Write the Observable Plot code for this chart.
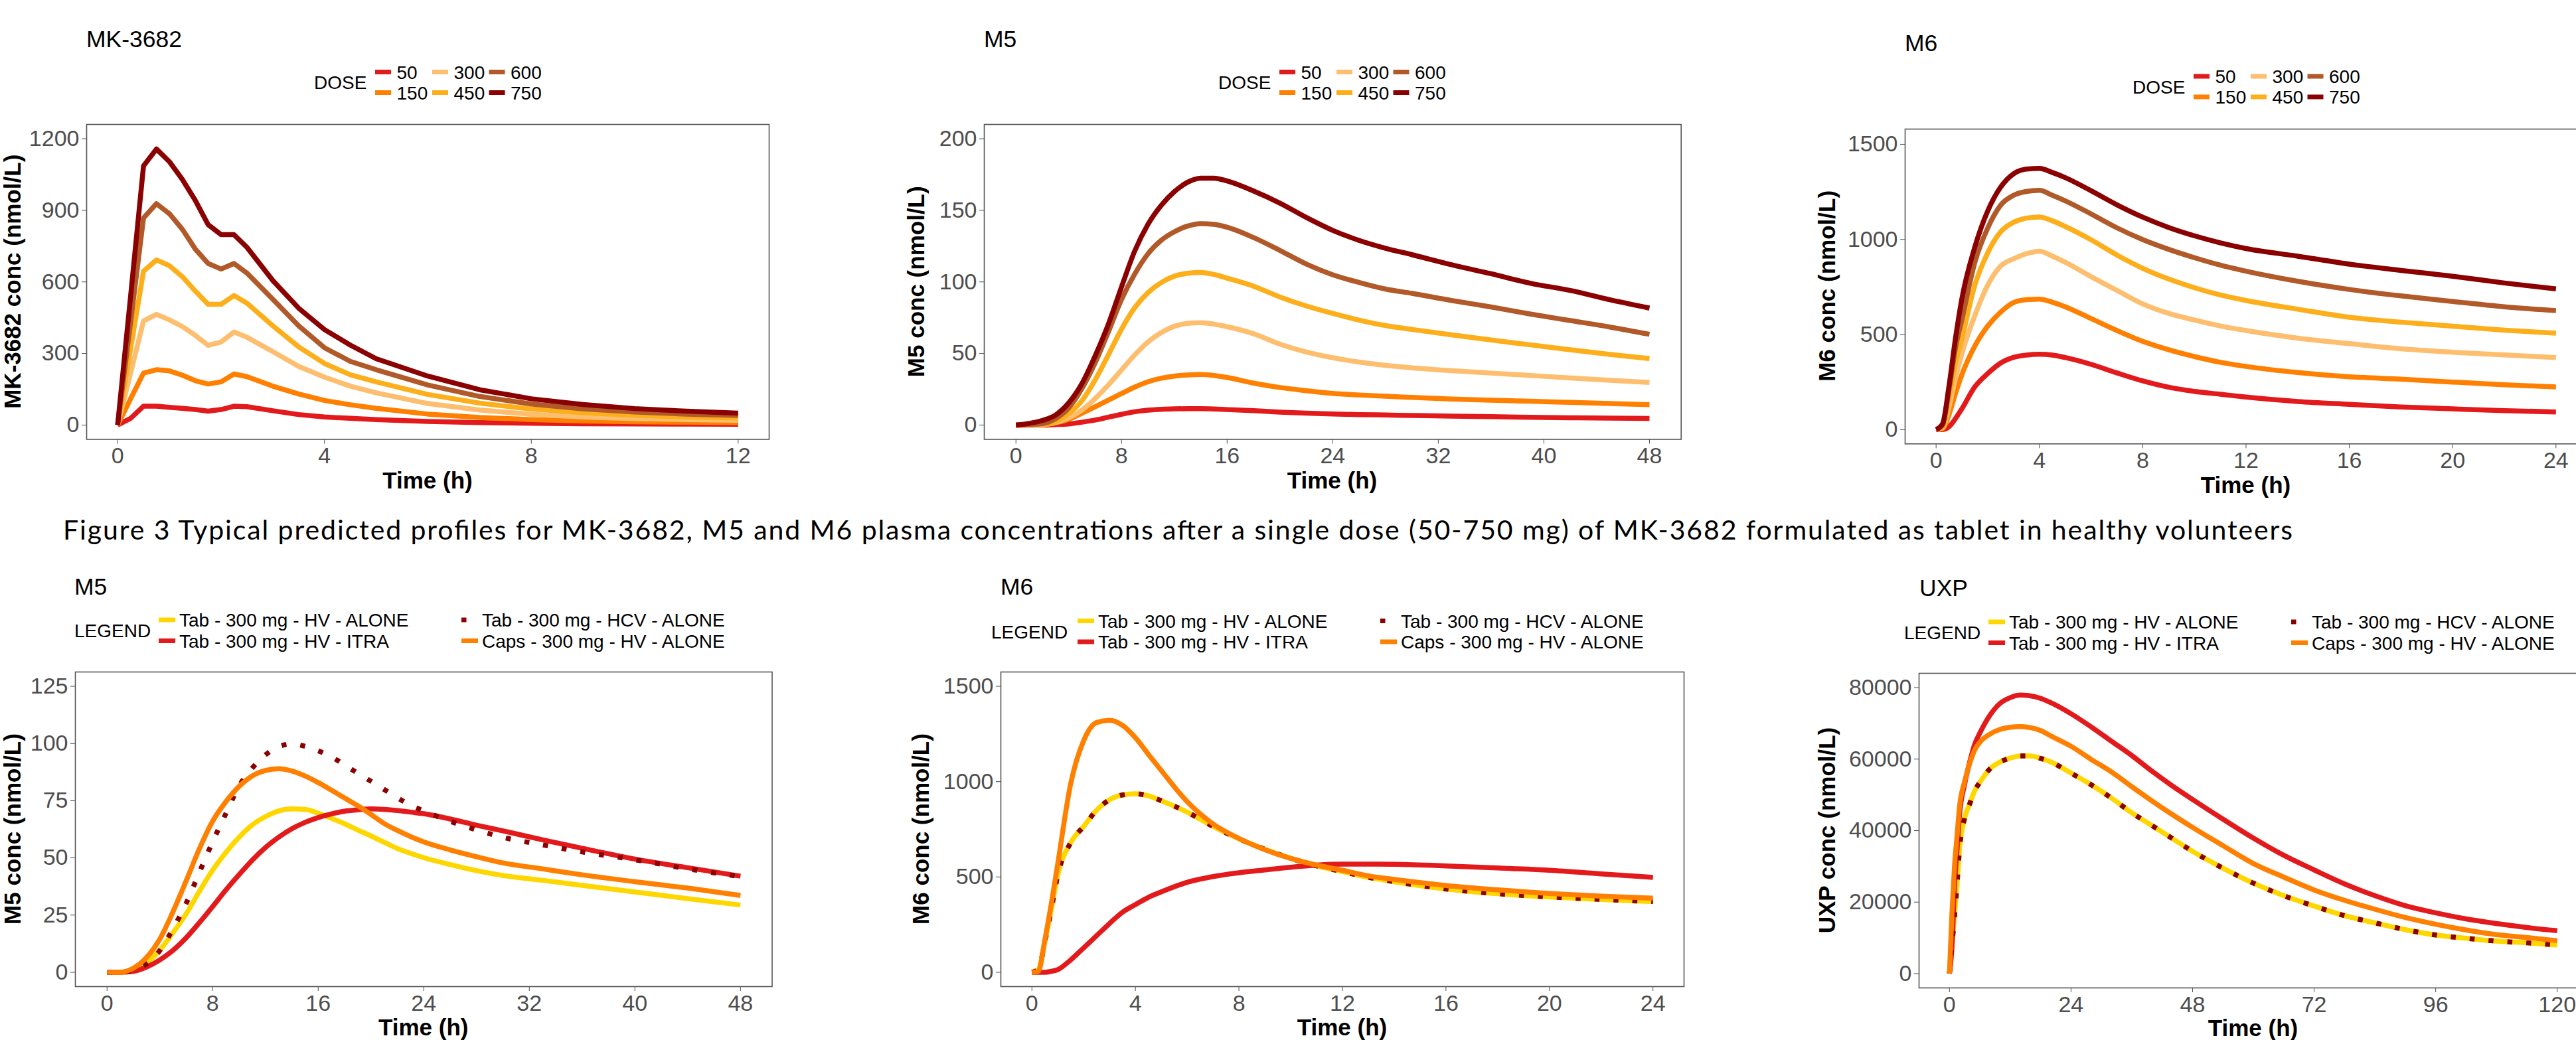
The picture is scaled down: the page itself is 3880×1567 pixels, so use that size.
<!DOCTYPE html>
<html>
<head>
<meta charset="utf-8">
<script src="https://cdn.jsdelivr.net/npm/d3@7"></script>
<script src="https://cdn.jsdelivr.net/npm/@observablehq/plot@0.6"></script>
<style>
html, body { margin: 0; padding: 0; background: #ffffff; }
#fig { position: relative; width: 3880px; height: 1567px; overflow: hidden; background: #ffffff; }
#fig svg { position: absolute; }
</style>
</head>
<body>
<div id="fig"></div>
<script>
// ---------------- DATA ----------------
const doseLevels = ["50", "150", "300", "450", "600", "750"];
const doseColors = ["#E31A1C", "#FF7F00", "#FDBF6F", "#FDAE1B", "#B15928", "#8B0000"];

const scenarioLevels = ["Tab - 300 mg - HV - ALONE", "Tab - 300 mg - HV - ITRA", "Tab - 300 mg - HCV - ALONE", "Caps - 300 mg - HV - ALONE"];
const scenarioColors = ["#FFD700", "#E31A1C", "#8B0000", "#FF7F00"];

const captionText = "Figure 3 Typical predicted profiles for MK-3682, M5 and M6 plasma concentrations after a single dose (50-750 mg) of MK-3682 formulated as tablet in healthy volunteers";
const panelTitles = ["MK-3682", "M5", "M6", "M5", "M6", "UXP"];
const yTitles = ["MK-3682 conc (nmol/L)", "M5 conc (nmol/L)", "M6 conc (nmol/L)", "M5 conc (nmol/L)", "M6 conc (nmol/L)", "UXP conc (nmol/L)"];
const xTitle = "Time (h)";

// Panel A: MK-3682 by dose (0-12 h)
const timeA = [0, 0.25, 0.5, 0.75, 1, 1.25, 1.5, 1.75, 2, 2.25, 2.5, 3, 3.5, 4, 4.5, 5, 6, 7, 8, 9, 10, 11, 12];
const mk50  = [0, 28, 79, 79, 74, 70, 65, 58, 65, 79, 77, 60, 44, 34, 28, 23, 15, 10.5, 7.5, 5.7, 4.6, 3.9, 3.3];
const mk150 = [0, 110, 218, 232, 227, 209, 186, 172, 181, 214, 203, 163, 130, 103, 85, 70, 46, 32, 23, 17, 14, 12, 10];
const mk300 = [0, 218, 436, 464, 441, 413, 376, 334, 348, 390, 368, 308, 246, 201, 163, 135, 90, 63, 45, 34, 27, 23, 20];
const mk450 = [0, 320, 645, 692, 668, 622, 562, 506, 506, 543, 511, 416, 328, 258, 211, 181, 128, 92, 67, 52, 41, 34, 30];
const mk600 = [0, 430, 868, 928, 886, 821, 738, 677, 654, 677, 637, 527, 416, 324, 267, 232, 168, 120, 88, 68, 55, 46, 40];
const mk750 = [0, 540, 1086, 1157, 1104, 1030, 942, 840, 798, 798, 745, 606, 490, 400, 335, 278, 205, 148, 110, 86, 69, 58, 50];

// Panel B: M5 by dose (0-48 h)
const timeB = [0, 2, 3, 4, 5, 6, 7, 8, 9, 10, 11, 12, 13, 14, 15, 16, 18, 20, 22, 24, 26, 28, 30, 33, 36, 39, 42, 45, 48];
const m5d50  = [0, 0, 0.3, 0.8, 2, 3.5, 5.5, 7.5, 9.3, 10.4, 11, 11.3, 11.4, 11.4, 11.2, 10.8, 10, 9, 8.3, 7.7, 7.3, 7, 6.7, 6.2, 5.9, 5.4, 5.1, 4.8, 4.6];
const m5d150 = [0, 0.2, 1.5, 4, 8.3, 12.8, 17.4, 22, 26.5, 30.2, 32.7, 34.2, 35, 35.3, 34.6, 33.2, 29.3, 26.2, 24, 22.1, 21, 20.1, 19.3, 18.2, 17.3, 16.6, 15.8, 15, 14.2];
const m5d300 = [0, 0.3, 1.8, 5, 10.5, 18.5, 28, 38.5, 49, 58, 64.5, 69, 71, 71.5, 70.5, 68.7, 63.8, 56.5, 51, 47, 44, 41.7, 40, 38, 36.3, 34.6, 32.9, 31.3, 29.7];
const m5d450 = [0, 0.5, 2.5, 8, 17, 31.5, 49, 67, 82, 92.5, 99.5, 104, 106, 106.6, 105.2, 102.6, 97, 89.5, 83.2, 78, 73.3, 69.5, 66.8, 63, 59.4, 56, 52.6, 49.3, 46.4];
const m5d600 = [0, 1, 4.5, 12, 25.5, 43.5, 65, 87.7, 105.5, 119.6, 129, 135, 139, 140.7, 140.2, 138.2, 131, 122, 112.5, 105, 99.6, 95, 92, 87, 82.5, 77.5, 73, 68.5, 63.4];
const m5d750 = [0, 3.2, 7, 15.5, 29, 48.3, 70.4, 96.5, 121.6, 140.2, 153.4, 163, 169.6, 172.5, 172.5, 170.5, 163.5, 155, 145, 136, 129, 123.5, 119, 112, 105.7, 99, 94, 87.5, 81.7];

// Panel C: M6 by dose (0-24 h)
const timeC = [0, 0.25, 0.5, 0.75, 1, 1.5, 2, 2.5, 3, 3.5, 4, 4.5, 5, 6, 7, 8, 9, 10, 11, 12, 14, 16, 18, 20, 22, 24];
const m6d50  = [0, 0, 15, 58, 110, 225, 295, 350, 380, 392, 396, 392, 379, 343, 298, 256, 223, 201, 186, 171, 148, 133, 119, 109, 100, 93];
const m6d150 = [0, 5, 80, 190, 290, 440, 545, 618, 668, 683, 686, 670, 646, 584, 521, 464, 420, 384, 354, 332, 300, 278, 265, 250, 236, 224];
const m6d300 = [0, 10, 120, 270, 400, 600, 760, 860, 898, 925, 938, 912, 880, 804, 732, 661, 611, 576, 545, 521, 481, 452, 425, 407, 393, 379];
const m6d450 = [0, 15, 170, 350, 480, 760, 930, 1040, 1090, 1112, 1118, 1098, 1068, 998, 918, 848, 792, 746, 708, 679, 633, 591, 565, 544, 523, 507];
const m6d600 = [0, 25, 210, 430, 580, 880, 1060, 1180, 1232, 1252, 1258, 1232, 1203, 1134, 1061, 999, 948, 904, 865, 833, 780, 737, 703, 674, 646, 626];
const m6d750 = [0, 30, 230, 480, 690, 960, 1150, 1275, 1345, 1370, 1373, 1352, 1325, 1256, 1182, 1117, 1063, 1019, 982, 952, 912, 870, 837, 806, 771, 740];

// Panel D: M5 by scenario (0-48 h)
const timeD = [0, 1, 2, 3, 4, 5, 6, 7, 8, 9, 10, 11, 12, 13, 14, 15, 16, 17, 18, 19, 20, 21, 22, 23, 24, 26, 28, 30, 33, 36, 40, 44, 48];
const m5TabHV   = [0, 0, 1.1, 4.2, 9.7, 17.3, 25.6, 35.4, 44.6, 52.3, 59, 64.4, 68, 70.5, 71.4, 71.2, 69.5, 67.3, 64.9, 62.2, 59.6, 56.8, 54.1, 52, 50.1, 47.1, 44.4, 42.3, 40.2, 38, 35.1, 32.2, 29.4];
const m5TabITRA = [0, 0, 0.4, 2.3, 5.4, 9.6, 15.1, 21.7, 28.7, 35.9, 42.6, 49, 54.5, 59, 62.7, 65.5, 67.6, 69.2, 70.4, 71, 71.4, 71.2, 70.7, 70, 69.3, 67, 64.3, 61.8, 57.9, 54.2, 49.5, 45.7, 42];
const m5TabHCV  = [0, 0, 0.8, 3.7, 9.5, 19, 30.2, 43.7, 57, 69.3, 81.3, 89.2, 95, 98.6, 99.8, 98.8, 96.8, 94.2, 90.6, 87, 83.5, 79.9, 76.3, 73, 70.6, 66, 62.2, 59, 55.7, 52.6, 49.2, 45.2, 41.8];
const m5Caps    = [0, 0, 1.8, 6.5, 14.5, 26.5, 40, 54, 66, 74.5, 81.2, 85.8, 88.2, 89, 88, 85.8, 82.9, 79.6, 76.2, 72.8, 69, 65, 62, 59.3, 57, 53.5, 50.5, 47.8, 45.2, 42.6, 39.6, 36.8, 33.6];

// Panel E: M6 by scenario (0-24 h)
const timeE = [0, 0.25, 0.5, 0.75, 1, 1.5, 2, 2.5, 3, 3.5, 4, 4.5, 5, 6, 7, 8, 9, 10, 11, 12, 13, 14, 16, 18, 20, 22, 24];
const m6TabHV   = [0, 15, 160, 330, 510, 680, 765, 850, 905, 930, 936, 925, 900, 840, 765, 700, 645, 598, 558, 528, 498, 475, 437, 412, 395, 382, 371];
const m6TabITRA = [0, 0, 0, 5, 14, 65, 128, 192, 256, 315, 355, 393, 422, 472, 502, 522, 537, 551, 562, 567, 567, 566, 558, 547, 535, 516, 498];
const m6TabHCV  = [0, 15, 160, 330, 510, 680, 765, 850, 905, 930, 936, 925, 900, 840, 765, 700, 645, 598, 558, 528, 498, 475, 437, 412, 395, 382, 371];
const m6Caps    = [0, 5, 170, 360, 570, 990, 1215, 1310, 1322, 1295, 1230, 1143, 1058, 895, 778, 702, 643, 597, 562, 535, 506, 487, 455, 432, 413, 399, 389];

// Panel F: UXP by scenario (0-120 h)
const timeF = [0, 0.5, 1, 1.5, 2, 3, 4, 5, 6, 8, 10, 12, 14, 16, 18, 20, 24, 28, 32, 36, 40, 44, 48, 54, 60, 66, 72, 78, 84, 90, 96, 102, 108, 114, 120];
const uxpTabHV   = [0, 8000, 16000, 25000, 35000, 43500, 47500, 51200, 53500, 57300, 59200, 60300, 60900, 60900, 60200, 59200, 56100, 52800, 49100, 45000, 41400, 37800, 34200, 29500, 25300, 21800, 18900, 16200, 14200, 12300, 10800, 9900, 9100, 8600, 8000];
const uxpTabITRA = [0, 7500, 24500, 34500, 44500, 53000, 59200, 64200, 67300, 72300, 75600, 77200, 77900, 77700, 77000, 75800, 72700, 69000, 65000, 61000, 56600, 52500, 48700, 43200, 37900, 33100, 29000, 25100, 21800, 19000, 17000, 15300, 14000, 12900, 12000];
const uxpTabHCV  = [0, 8000, 16000, 25000, 35000, 43500, 47500, 51200, 53500, 57300, 59200, 60300, 60900, 60900, 60200, 59200, 56100, 52800, 49100, 45000, 41400, 37800, 34200, 29500, 25300, 21800, 18900, 16200, 14200, 12300, 10800, 9900, 9100, 8600, 8000];
const uxpCaps    = [0, 17000, 30000, 38500, 46800, 53700, 58800, 62600, 64700, 67000, 68300, 68900, 69100, 68800, 68000, 66500, 63600, 59900, 56400, 52300, 48300, 44500, 40900, 35800, 30800, 27000, 23400, 20500, 18000, 15700, 13800, 12200, 10900, 10100, 9200];

// Axis ticks
const ticksA_x = [0, 4, 8, 12],             ticksA_y = [0, 300, 600, 900, 1200];
const ticksB_x = [0, 8, 16, 24, 32, 40, 48], ticksB_y = [0, 50, 100, 150, 200];
const ticksC_x = [0, 4, 8, 12, 16, 20, 24], ticksC_y = [0, 500, 1000, 1500];
const ticksD_x = [0, 8, 16, 24, 32, 40, 48], ticksD_y = [0, 25, 50, 75, 100, 125];
const ticksE_x = [0, 4, 8, 12, 16, 20, 24], ticksE_y = [0, 500, 1000, 1500];
const ticksF_x = [0, 24, 48, 72, 96, 120],  ticksF_y = [0, 20000, 40000, 60000, 80000];

// ---------------- BUILD ----------------
const fig = document.getElementById("fig");
const FONT = "'Liberation Sans', Arial, Helvetica, sans-serif";

function series(times, name, values) {
  return times.map((t, i) => ({t, v: values[i], s: name}));
}

function makePanel(p) {
  const mL = 130, mR = 20, mT = 10, mB = 70;
  const W = p.R - p.L, H = p.B - p.T;
  const marks = p.lines.map(l => Plot.line(l.data, {
    x: "t", y: "v", stroke: "s", strokeWidth: 7.5, curve: p.curve,
    strokeLinejoin: "round", strokeLinecap: "butt",
    strokeDasharray: l.dash
  }));
  marks.push(Plot.frame({stroke: "#555555", strokeWidth: 1.6}));
  const svg = Plot.plot({
    width: W + mL + mR, height: H + mT + mB,
    marginLeft: mL, marginRight: mR, marginTop: mT, marginBottom: mB,
    x: {domain: p.xd, ticks: p.xt, tickSize: 7, tickPadding: 5, label: null, tickFormat: d3.format("d")},
    y: {domain: p.yd, ticks: p.yt, tickSize: 7, tickPadding: 4, label: null, tickFormat: d3.format("d")},
    color: {domain: p.cdom, range: p.crange},
    style: {fontFamily: FONT, fontSize: "34px", color: "#4d4d4d", background: "transparent", overflow: "visible"},
    marks
  });
  svg.style.position = "absolute";
  svg.style.left = (p.L - mL) + "px";
  svg.style.top = (p.T - mT) + "px";
  svg.style.maxWidth = "none";
  fig.appendChild(svg);
}

const doseArraysA = [mk50, mk150, mk300, mk450, mk600, mk750];
const doseArraysB = [m5d50, m5d150, m5d300, m5d450, m5d600, m5d750];
const doseArraysC = [m6d50, m6d150, m6d300, m6d450, m6d600, m6d750];

function doseLines(times, arrays) {
  return doseLevels.map((d, i) => ({data: series(times, d, arrays[i])}));
}
function scenLines(times, tabHV, tabITRA, tabHCV, caps) {
  return [
    {data: series(times, scenarioLevels[0], tabHV)},
    {data: series(times, scenarioLevels[1], tabITRA)},
    {data: series(times, scenarioLevels[2], tabHCV), dash: "7.5,21"},
    {data: series(times, scenarioLevels[3], caps)}
  ];
}

const panels = [
  {L: 130, T: 187, R: 1158, B: 661.5, xd: [-0.6, 12.6], yd: [-60, 1260], xt: ticksA_x, yt: ticksA_y, curve: "linear",
   cdom: doseLevels, crange: doseColors, lines: doseLines(timeA, doseArraysA), xTitleY: 735.5},
  {L: 1481.6, T: 187, R: 2531.3, B: 661.5, xd: [-2.4, 50.4], yd: [-10, 210], xt: ticksB_x, yt: ticksB_y, curve: "monotone-x",
   cdom: doseLevels, crange: doseColors, lines: doseLines(timeB, doseArraysB), xTitleY: 735.5},
  {L: 2869, T: 193.7, R: 3896, B: 668, xd: [-1.2, 25.2], yd: [-75, 1580], xt: ticksC_x, yt: ticksC_y, curve: "monotone-x",
   cdom: doseLevels, crange: doseColors, lines: doseLines(timeC, doseArraysC), xTitleY: 742.5},
  {L: 113, T: 1012, R: 1162.5, B: 1486, xd: [-2.4, 50.4], yd: [-6.25, 131.25], xt: ticksD_x, yt: ticksD_y, curve: "monotone-x",
   cdom: scenarioLevels, crange: scenarioColors, lines: scenLines(timeD, m5TabHV, m5TabITRA, m5TabHCV, m5Caps), xTitleY: 1560},
  {L: 1507, T: 1012, R: 2536, B: 1486, xd: [-1.2, 25.2], yd: [-75, 1575], xt: ticksE_x, yt: ticksE_y, curve: "monotone-x",
   cdom: scenarioLevels, crange: scenarioColors, lines: scenLines(timeE, m6TabHV, m6TabITRA, m6TabHCV, m6Caps), xTitleY: 1560},
  {L: 2890, T: 1014, R: 3897, B: 1488, xd: [-6, 126], yd: [-4000, 84000], xt: ticksF_x, yt: ticksF_y, curve: "monotone-x",
   cdom: scenarioLevels, crange: scenarioColors, lines: scenLines(timeF, uxpTabHV, uxpTabITRA, uxpTabHCV, uxpCaps), xTitleY: 1561}
];
panels.forEach(makePanel);

// ---------------- TEXT / LEGEND OVERLAY ----------------
const ov = d3.select(fig).append("svg")
  .attr("width", 3880).attr("height", 1567)
  .style("left", "0px").style("top", "0px")
  .style("pointer-events", "none");

// Caption
ov.append("text").attr("x", 95).attr("y", 812.5)
  .attr("font-family", "Lato, 'Open Sans', sans-serif").attr("font-size", 41)
  .attr("textLength", 3358).attr("lengthAdjust", "spacing")
  .attr("fill", "#000").text(captionText);

// Panel titles
const titlePos = [[130, 70.8], [1482, 70.8], [2869, 76.5], [112, 896], [1507, 896], [2891, 897.5]];
titlePos.forEach(([x, y], i) => {
  ov.append("text").attr("x", x).attr("y", y).attr("font-family", FONT).attr("font-size", 35.5)
    .attr("fill", "#000").text(panelTitles[i]);
});

// Axis titles
const yTitleX = [31, 1392, 2764, 31, 1399, 2764];
panels.forEach((p, i) => {
  const cxFrame = (p.L + p.R) / 2, cyFrame = (p.T + p.B) / 2;
  ov.append("text").attr("x", cxFrame).attr("y", p.xTitleY)
    .attr("text-anchor", "middle").attr("font-family", FONT).attr("font-size", 35)
    .attr("font-weight", "bold").attr("fill", "#000").text(xTitle);
  ov.append("text").attr("transform", `translate(${yTitleX[i]},${cyFrame}) rotate(-90)`)
    .attr("text-anchor", "middle").attr("font-family", FONT).attr("font-size", 35)
    .attr("font-weight", "bold").attr("fill", "#000").text(yTitles[i]);
});

// Dose legends (top row)
const doseLegendOffsets = [[0, 0], [1362, 0], [2739, 6.5]];
doseLegendOffsets.forEach(([dx, dy]) => {
  const g = ov.append("g").attr("transform", `translate(${dx},${dy})`);
  g.append("text").attr("x", 473).attr("y", 124).attr("dy", "0.36em")
    .attr("font-family", FONT).attr("font-size", 28).attr("fill", "#000").text("DOSE");
  const colX = [565, 651, 736.5];
  const rowY = [108.5, 139.5];
  doseLevels.forEach((d, i) => {
    const c = Math.floor(i / 2), r = i % 2;
    g.append("line").attr("x1", colX[c]).attr("x2", colX[c] + 24)
      .attr("y1", rowY[r]).attr("y2", rowY[r])
      .attr("stroke", doseColors[i]).attr("stroke-width", 7);
    g.append("text").attr("x", colX[c] + 32.5).attr("y", rowY[r]).attr("dy", "0.36em")
      .attr("font-family", FONT).attr("font-size", 28).attr("fill", "#000").text(d);
  });
});

// Scenario legends (bottom row)
const scenLegendOffsets = [[0, 0, 0], [1381, 1384, 1.5], [2756, 2756, 3]];
scenLegendOffsets.forEach(([dxTitle, dx, dy]) => {
  const g = ov.append("g").attr("transform", `translate(0,${dy})`);
  g.append("text").attr("x", 112 + dxTitle).attr("y", 950).attr("dy", "0.36em")
    .attr("font-family", FONT).attr("font-size", 28).attr("fill", "#000").text("LEGEND");
  const colX = [239, 695];
  const rowY = [934, 965.5];
  const cells = [[0, 0, 0], [1, 0, 1], [2, 1, 0], [3, 1, 1]]; // [scenario, col, row]
  cells.forEach(([s, c, r]) => {
    const x0 = colX[c] + dx;
    g.append("line").attr("x1", x0).attr("x2", x0 + 25)
      .attr("y1", rowY[r]).attr("y2", rowY[r])
      .attr("stroke", scenarioColors[s]).attr("stroke-width", 7)
      .attr("stroke-dasharray", s === 2 ? "7.5,21" : null);
    g.append("text").attr("x", x0 + 31).attr("y", rowY[r]).attr("dy", "0.36em")
      .attr("font-family", FONT).attr("font-size", 28).attr("fill", "#000").text(scenarioLevels[s]);
  });
});
</script>
</body>
</html>
